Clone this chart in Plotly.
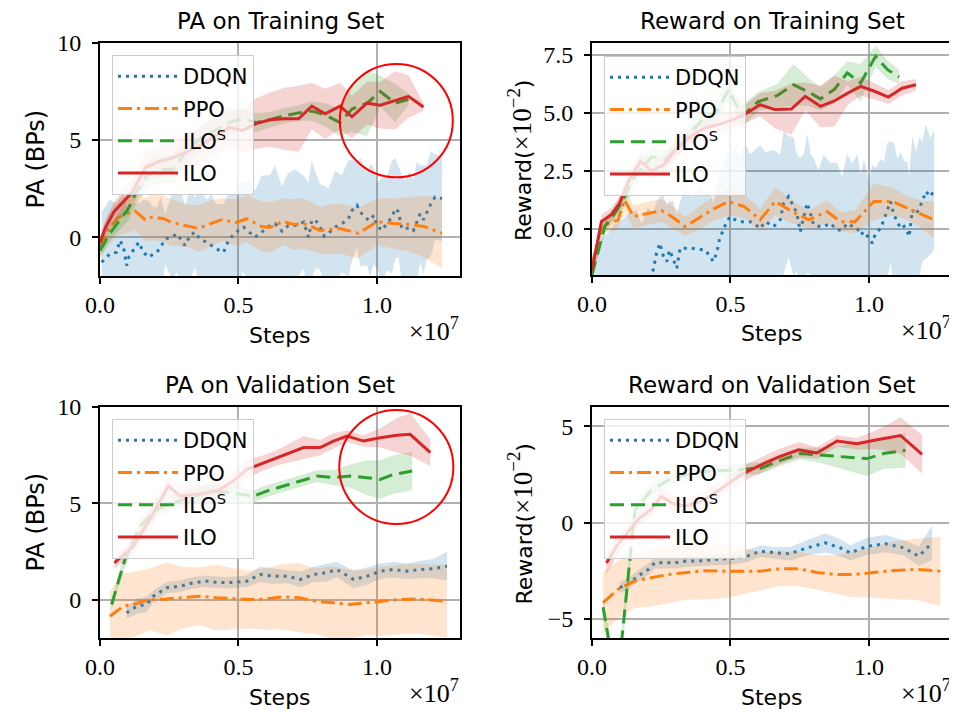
import plotly.graph_objects as go

W, H = 957, 712
OFF = 8  # the page body margin shifts the figure by this many pixels

# ---------------- data (x in units of 1e7 steps) ----------------
# --- PA on Training Set ---
tl_ddqn_x = [0.006, 0.036, 0.060, 0.072, 0.085, 0.096, 0.105, 0.126, 0.140, 0.157,
             0.175, 0.190, 0.205, 0.220, 0.235, 0.260, 0.277, 0.295, 0.307, 0.325,
             0.343, 0.360, 0.385, 0.403, 0.420, 0.446, 0.464, 0.480, 0.500, 0.518,
             0.540, 0.560, 0.584, 0.614, 0.632, 0.657, 0.680, 0.705, 0.735, 0.753,
             0.765, 0.777, 0.795, 0.810, 0.825, 0.849, 0.873, 0.897, 0.910, 0.928,
             0.940, 0.964, 0.976, 0.988, 1.000, 1.018, 1.036, 1.054, 1.066, 1.078,
             1.090, 1.102, 1.118, 1.132, 1.144, 1.156, 1.168, 1.180, 1.195, 1.210,
             1.235]
tl_ddqn_y = [-1.29, -0.86, -0.78, -0.17, -0.50, -1.46, -1.00, -0.52, -0.26, -0.78,
             -1.03, -0.90, -0.78, -0.50, -0.09, 0.00, 0.17, -0.17, -0.43, 0.09,
             0.26, -0.09, -0.26, -0.43, -0.60, -0.78, -0.17, 0.10, 0.35, 0.52,
             0.26, 0.00, 0.26, 0.60, 0.69, 0.31, 0.60, 0.60, 0.78, 0.00,
             0.86, 0.90, 0.52, 0.05, 0.20, 0.52, 0.69, 0.95, 1.38, 1.64,
             1.29, 0.95, 0.86, 1.12, 0.60, 0.35, 0.70, 1.03, 1.47, 1.30,
             0.43, 0.43, 0.50, 0.35, 0.78, 1.20, 0.90, 1.29, 1.72, 2.07,
             1.99]
tl_ddqn_s = [2.6, 2.8, 2.5, 2.2, 2.7, 3.0, 2.6, 2.3, 2.0, 2.7,
             2.9, 2.5, 2.3, 2.6, 1.3, 2.2, 2.0, 2.4, 2.1, 2.3,
             1.8, 2.5, 2.2, 2.6, 2.3, 2.5, 2.4, 2.1, 2.6, 2.3,
             2.7, 2.4, 2.9, 2.6, 3.0, 2.3, 2.7, 2.9, 2.4, 2.8,
             3.1, 2.5, 2.2, 2.6, 2.3, 2.9, 2.5, 3.0, 2.6, 2.2,
             2.8, 2.4, 2.9, 2.5, 2.2, 2.7, 2.4, 2.9, 2.6, 2.3,
             2.8, 2.5, 2.9, 2.6, 3.1, 2.5, 2.8, 2.4, 2.7, 2.2,
             2.2]
tl_ppo_x = [0.0, 0.03, 0.066, 0.096, 0.126, 0.163, 0.19, 0.23, 0.26, 0.31,
            0.355, 0.40, 0.44, 0.49, 0.53, 0.584, 0.614, 0.66, 0.70, 0.735,
            0.795, 0.83, 0.867, 0.933, 1.0, 1.06, 1.12, 1.17, 1.235]
tl_ppo_y = [-0.6, 0.4, 1.0, 1.2, 1.35, 0.9, 1.05, 0.95, 0.75, 0.6,
            0.45, 0.7, 0.9, 0.75, 0.95, 0.55, 0.5, 0.8, 0.65, 0.7,
            0.35, 0.4, 0.45, 0.2, 0.8, 0.7, 0.65, 0.55, 0.2]
tl_ppo_s = [0.6, 0.8, 0.9, 1.0, 1.0, 1.1, 1.2, 1.2, 1.2, 1.1,
            1.2, 1.2, 1.1, 1.2, 1.2, 1.3, 1.3, 1.2, 1.3, 1.3,
            1.2, 1.3, 1.3, 1.3, 1.2, 1.3, 1.4, 1.6, 1.8]
tl_ilos_x = [0.0, 0.036, 0.072, 0.10, 0.13, 0.165, 0.215, 0.265, 0.315, 0.365,
             0.415, 0.465, 0.515, 0.564, 0.614, 0.665, 0.717, 0.765, 0.813, 0.867,
             0.91, 0.964, 1.012, 1.066, 1.114]
tl_ilos_y = [-0.7, 0.2, 0.9, 1.4, 2.3, 3.1, 3.5, 3.5, 4.5, 5.1,
             5.5, 5.9, 6.1, 5.9, 6.05, 6.25, 6.4, 6.5, 6.3, 5.9,
             6.6, 6.9, 7.5, 6.9, 7.1]
tl_ilos_s = [0.3, 0.4, 0.5, 0.6, 0.6, 0.7, 0.7, 0.7, 0.7, 0.7,
             0.6, 0.6, 0.5, 0.5, 0.4, 0.4, 0.4, 0.5, 0.6, 0.7,
             1.2, 1.7, 0.8, 1.0, 0.3]
tl_ilo_x = [0.0, 0.02, 0.05, 0.09, 0.115, 0.165, 0.215, 0.265, 0.315, 0.365,
            0.415, 0.465, 0.515, 0.564, 0.614, 0.665, 0.717, 0.765, 0.813, 0.867,
            0.91, 0.964, 1.012, 1.066, 1.114, 1.168]
tl_ilo_y = [-0.3, 0.5, 1.3, 1.9, 2.3, 3.6, 3.9, 4.1, 4.4, 4.75,
            5.2, 5.65, 5.5, 5.85, 6.05, 6.1, 6.1, 6.75, 6.35, 6.75,
            6.2, 6.9, 6.8, 7.05, 7.25, 6.7]
tl_ilo_s = [0.3, 0.4, 0.5, 0.6, 0.7, 0.8, 0.8, 0.8, 0.9, 0.9,
            1.0, 1.0, 1.1, 1.3, 1.4, 1.6, 1.7, 1.2, 1.3, 1.2,
            1.1, 1.1, 1.2, 1.5, 1.1, 0.2]

# --- Reward on Training Set (x 1e-2) ---
tr_ddqn_x = [0.00, 0.02, 0.04, 0.06, 0.08, 0.10, 0.12, 0.14, 0.16, 0.18,
             0.20, 0.221, 0.233, 0.245, 0.258, 0.270, 0.280, 0.293, 0.306, 0.318,
             0.336, 0.360, 0.390, 0.410, 0.426, 0.438, 0.450, 0.460, 0.469, 0.487,
             0.499, 0.517, 0.535, 0.553, 0.571, 0.589, 0.607, 0.626, 0.656, 0.680,
             0.692, 0.710, 0.728, 0.740, 0.752, 0.765, 0.777, 0.790, 0.800, 0.818,
             0.837, 0.861, 0.885, 0.903, 0.922, 0.940, 0.958, 0.970, 0.982, 1.000,
             1.012, 1.024, 1.042, 1.054, 1.067, 1.078, 1.090, 1.103, 1.115, 1.127,
             1.139, 1.145, 1.157, 1.170, 1.181, 1.193, 1.205, 1.223, 1.235]
tr_ddqn_y = [-4.0, -3.5, -3.2, -3.0, -2.8, -3.1, -2.7, -2.9, -2.6, -2.8,
             -2.4, -1.78, -1.06, -0.63, -1.2, -1.42, -0.93, -1.3, -1.71, -0.85,
             -0.85, -0.85, -0.9, -0.93, -1.2, -1.42, -1.06, -0.49, -0.2, 0.3,
             0.52, 0.38, 0.3, 0.3, 0.3, 0.2, 0.0, 0.3, 0.09, 0.38,
             1.1, 1.38, 0.95, 0.66, -0.13, 0.5, 1.1, 0.6, 0.16, 0.1,
             0.09, 0.23, -0.06, -0.06, 0.23, 0.1, 0.0, -0.27, -0.13, -0.42,
             -0.63, -0.2, 0.0, 0.38, 0.8, 1.17, 0.6, 0.3, 0.0, 0.1,
             -0.13, -0.35, 0.8, 0.6, 0.9, 1.17, 1.6, 1.38, 1.67]
tr_ddqn_s = [2.8, 2.6, 2.9, 2.8, 3.0, 3.4, 3.2, 3.6, 3.4, 3.0,
             3.3, 2.5, 2.2, 2.0, 2.6, 2.4, 2.1, 2.5, 2.3, 2.0,
             2.6, 2.2, 2.7, 2.4, 2.9, 2.5, 2.8, 3.0, 2.7, 3.0,
             2.6, 3.1, 2.8, 3.4, 2.9, 3.2, 3.6, 3.0, 3.3, 2.8,
             3.1, 2.6, 3.0, 2.5, 3.2, 2.7, 3.0, 2.6, 2.9, 2.4,
             3.1, 2.6, 2.9, 2.3, 3.0, 2.7, 3.2, 2.6, 3.1, 2.4,
             3.4, 2.8, 3.0, 2.5, 2.9, 2.6, 3.1, 2.7, 3.3, 2.8,
             3.0, 2.6, 3.2, 2.7, 3.0, 2.6, 2.9, 2.5, 2.6]
tr_ppo_x = [0.0, 0.034, 0.064, 0.094, 0.118, 0.149, 0.20, 0.251, 0.29, 0.336,
            0.385, 0.433, 0.493, 0.55, 0.607, 0.662, 0.722, 0.783, 0.849, 0.897,
            0.95, 1.018, 1.085, 1.14, 1.19, 1.235]
tr_ppo_y = [-1.6, 0.09, 0.26, 0.36, 1.24, 0.52, 0.65, 0.78, 0.5, 0.09,
            0.45, 0.81, 1.17, 0.95, 0.38, 1.17, 0.73, 0.38, 0.73, 0.3,
            0.3, 1.17, 1.17, 0.88, 0.6, 0.38]
tr_ppo_s = [0.3, 0.3, 0.4, 0.4, 0.5, 0.5, 0.5, 0.5, 0.5, 0.4,
            0.5, 0.5, 0.6, 0.5, 0.5, 0.6, 0.5, 0.4, 0.5, 0.4,
            0.5, 0.8, 0.6, 0.5, 0.6, 0.8]
tr_ilos_x = [0.0, 0.046, 0.082, 0.106, 0.155, 0.215, 0.263, 0.336, 0.408, 0.45,
             0.493, 0.541, 0.601, 0.668, 0.728, 0.78, 0.825, 0.875, 0.922, 0.97,
             1.024, 1.067, 1.109]
tr_ilos_y = [-2.0, 0.09, 0.66, 1.1, 2.25, 3.1, 2.97, 3.83, 4.84, 5.0,
             6.0, 4.84, 5.48, 5.73, 6.2, 5.9, 5.59, 6.0, 6.71, 6.28,
             7.43, 6.85, 6.54]
tr_ilos_s = [0.2, 0.3, 0.3, 0.4, 0.4, 0.4, 0.4, 0.4, 0.5, 0.5,
             0.5, 0.5, 0.4, 0.5, 0.9, 0.6, 0.5, 0.6, 0.5, 0.8,
             0.45, 0.4, 0.3]
tr_ilo_x = [0.0, 0.034, 0.07, 0.10, 0.13, 0.175, 0.215, 0.26, 0.31, 0.36,
            0.41, 0.46, 0.51, 0.555, 0.607, 0.66, 0.72, 0.77, 0.825, 0.875,
            0.925, 0.97, 1.02, 1.07, 1.12, 1.17]
tr_ilo_y = [-1.8, 0.3, 0.6, 1.1, 2.0, 2.9, 2.5, 2.75, 3.5, 4.0,
            4.35, 4.5, 4.7, 4.95, 5.34, 5.13, 5.15, 5.7, 5.27, 5.5,
            5.85, 6.13, 5.92, 5.67, 6.05, 6.2]
tr_ilo_s = [0.3, 0.3, 0.3, 0.3, 0.4, 0.4, 0.4, 0.4, 0.4, 0.4,
            0.4, 0.4, 0.4, 0.4, 0.5, 0.8, 1.1, 0.6, 0.9, 1.1,
            0.5, 0.4, 0.35, 0.3, 0.3, 0.25]

# --- PA on Validation Set ---
bl_ddqn_x = [0.096, 0.133, 0.169, 0.193, 0.241, 0.289, 0.337, 0.386, 0.42, 0.458,
             0.494, 0.53, 0.578, 0.627, 0.675, 0.723, 0.771, 0.819, 0.855, 0.916,
             0.964, 1.012, 1.06, 1.108, 1.157, 1.205, 1.253]
bl_ddqn_y = [-0.69, -0.35, -0.26, 0.17, 0.61, 0.69, 0.87, 0.95, 0.9, 0.87,
             0.9, 0.95, 1.3, 1.21, 1.21, 1.04, 1.3, 1.39, 1.56, 1.04,
             1.21, 1.47, 1.56, 1.47, 1.56, 1.6, 1.73]
bl_ddqn_s = [0.3, 0.4, 0.4, 0.3, 0.3, 0.3, 0.3, 0.3, 0.3, 0.3,
             0.3, 0.3, 0.4, 0.4, 0.35, 0.4, 0.4, 0.45, 0.4, 0.45,
             0.45, 0.4, 0.4, 0.4, 0.45, 0.5, 0.75]
bl_ppo_x = [0.036, 0.084, 0.12, 0.18, 0.24, 0.3, 0.36, 0.42, 0.48, 0.54,
            0.6, 0.66, 0.72, 0.78, 0.84, 0.9, 0.96, 1.02, 1.08, 1.14, 1.253]
bl_ppo_y = [-0.87, -0.35, -0.26, 0.0, 0.03, 0.09, 0.17, 0.09, 0.03, 0.0,
            0.03, 0.14, 0.09, -0.09, -0.17, -0.26, -0.17, -0.09, 0.0, 0.03, -0.09]
bl_ppo_s = [1.3, 1.7, 1.7, 1.6, 1.9, 1.6, 1.5, 1.7, 1.6, 1.5,
            1.6, 1.7, 1.8, 1.7, 1.9, 1.8, 1.7, 1.8, 1.8, 1.8, 1.9]
bl_ilos_x = [0.042, 0.09, 0.145, 0.205, 0.265, 0.325, 0.385, 0.445, 0.5, 0.554,
             0.602, 0.663, 0.723, 0.783, 0.843, 0.904, 0.964, 1.012, 1.06, 1.127]
bl_ilos_y = [-0.26, 2.08, 3.81, 4.68, 5.03, 5.3, 5.55, 5.6, 5.5, 5.37,
             5.63, 5.89, 6.15, 6.41, 6.33, 6.41, 6.33, 6.24, 6.5, 6.67]
bl_ilos_s = [0.3, 0.4, 0.4, 0.4, 0.4, 0.4, 0.4, 0.4, 0.4, 0.3,
             0.3, 0.3, 0.3, 0.3, 0.4, 0.6, 0.9, 1.0, 1.0, 1.0]
bl_ilo_x = [0.052, 0.12, 0.18, 0.247, 0.29, 0.337, 0.386, 0.434, 0.482, 0.53,
            0.59, 0.64, 0.687, 0.735, 0.795, 0.843, 0.892, 0.952, 1.012, 1.072,
            1.12, 1.193]
bl_ilo_y = [1.9, 2.77, 4.16, 5.9, 5.37, 5.46, 5.55, 5.72, 6.15, 6.76,
            7.1, 7.37, 7.63, 7.89, 7.89, 8.23, 8.49, 8.23, 8.4, 8.53,
            8.58, 7.63]
bl_ilo_s = [0.3, 0.4, 0.5, 0.5, 0.5, 0.5, 0.5, 0.5, 0.5, 0.5,
            0.4, 0.4, 0.5, 0.6, 0.4, 0.4, 0.3, 0.3, 0.5, 0.9,
            1.1, 0.7]

# --- Reward on Validation Set (x 1e-2) ---
br_ddqn_x = [0.10, 0.13, 0.166, 0.203, 0.227, 0.263, 0.299, 0.34, 0.384, 0.42,
             0.456, 0.49, 0.528, 0.56, 0.607, 0.667, 0.715, 0.776, 0.842, 0.897,
             0.933, 0.993, 1.059, 1.126, 1.18, 1.228]
br_ddqn_y = [-3.38, -3.21, -2.78, -2.44, -2.09, -2.09, -2.09, -2.0, -2.0, -1.95,
             -1.92, -1.9, -1.84, -1.75, -1.49, -1.58, -1.62, -1.32, -1.06, -1.32,
             -1.58, -1.24, -1.1, -1.32, -1.75, -1.06]
br_ddqn_s = [0.3, 0.3, 0.3, 0.3, 0.3, 0.3, 0.3, 0.3, 0.3, 0.3,
             0.3, 0.3, 0.3, 0.3, 0.3, 0.3, 0.35, 0.4, 0.5, 0.45,
             0.4, 0.45, 0.45, 0.4, 0.5, 0.9]
br_ppo_x = [0.04, 0.094, 0.155, 0.215, 0.275, 0.335, 0.408, 0.48, 0.553, 0.607,
            0.68, 0.745, 0.812, 0.88, 0.945, 1.005, 1.09, 1.174, 1.258]
br_ppo_y = [-4.16, -3.47, -3.04, -2.87, -2.7, -2.61, -2.5, -2.53, -2.53, -2.53,
            -2.4, -2.4, -2.6, -2.7, -2.7, -2.6, -2.49, -2.44, -2.53]
br_ppo_s = [1.6, 1.5, 1.4, 1.5, 1.5, 1.4, 1.5, 1.4, 1.2, 1.0,
            0.9, 0.9, 0.9, 1.0, 1.2, 1.3, 1.5, 1.6, 1.8]
br_ilos_x = [0.04, 0.09, 0.155, 0.215, 0.275, 0.335, 0.395, 0.455, 0.515, 0.577,
             0.607, 0.68, 0.752, 0.825, 0.897, 0.993, 1.053, 1.132]
br_ilos_y = [-4.4, -8.6, 0.65, 1.69, 2.2, 2.46, 2.63, 2.7, 2.7, 2.8,
             2.8, 3.23, 3.58, 3.49, 3.4, 3.32, 3.58, 3.75]
br_ilos_s = [0.5, 0.8, 0.4, 0.3, 0.3, 0.3, 0.3, 0.3, 0.3, 0.3,
             0.3, 0.3, 0.3, 0.4, 0.6, 0.9, 0.8, 0.9]
br_ilo_x = [0.052, 0.09, 0.13, 0.17, 0.215, 0.25, 0.29, 0.335, 0.383, 0.431,
            0.48, 0.54, 0.607, 0.673, 0.746, 0.812, 0.885, 0.957, 1.029, 1.07,
            1.114, 1.192]
br_ilo_y = [-2.1, -1.2, -0.5, 0.2, 0.7, 1.35, 1.0, 0.85, 1.05, 1.4,
            1.9, 2.5, 2.97, 3.4, 3.78, 3.61, 4.23, 4.09, 4.3, 4.4,
            4.52, 3.54]
br_ilo_s = [0.6, 0.5, 0.4, 0.4, 0.4, 0.4, 0.4, 0.4, 0.4, 0.4,
            0.4, 0.4, 0.4, 0.4, 0.4, 0.3, 0.3, 0.3, 0.5, 0.7,
            0.95, 1.0]

series_names = ["DDQN", "PPO", "ILO<sup>S</sup>", "ILO"]
panel_titles = ["PA on Training Set", "Reward on Training Set",
                "PA on Validation Set", "Reward on Validation Set"]
x_ticks = [0.0, 0.5, 1.0]
y_ticks = [[0, 5, 10], [0.0, 2.5, 5.0, 7.5], [0, 5, 10], [-5, 0, 5]]
y_ranges = [[-2, 10], [-2, 8], [-2, 10], [-6, 6]]
x_range = [0, 1.3]
# highlighted regions (red circles) in data units: (panel, cx, cy, rx, ry)
highlights = [(0, 1.07, 6.0, 0.204, 2.92), (2, 1.07, 6.88, 0.206, 2.96)]

# ---------------- styling ----------------
colors = ["#1f77b4", "#ff7f0e", "#2ca02c", "#d62728"]
rgba = ["rgba(31,119,180,0.2)", "rgba(255,127,14,0.2)",
        "rgba(44,160,44,0.2)", "rgba(214,39,40,0.2)"]
dashes = ["3px,5px", "14px,5px,3px,5px", "14px,7px", "solid"]
SANS = "DejaVu Sans"
SERIF = "Liberation Serif"

panels = [
    [(tl_ddqn_x, tl_ddqn_y, tl_ddqn_s), (tl_ppo_x, tl_ppo_y, tl_ppo_s),
     (tl_ilos_x, tl_ilos_y, tl_ilos_s), (tl_ilo_x, tl_ilo_y, tl_ilo_s)],
    [(tr_ddqn_x, tr_ddqn_y, tr_ddqn_s), (tr_ppo_x, tr_ppo_y, tr_ppo_s),
     (tr_ilos_x, tr_ilos_y, tr_ilos_s), (tr_ilo_x, tr_ilo_y, tr_ilo_s)],
    [(bl_ddqn_x, bl_ddqn_y, bl_ddqn_s), (bl_ppo_x, bl_ppo_y, bl_ppo_s),
     (bl_ilos_x, bl_ilos_y, bl_ilos_s), (bl_ilo_x, bl_ilo_y, bl_ilo_s)],
    [(br_ddqn_x, br_ddqn_y, br_ddqn_s), (br_ppo_x, br_ppo_y, br_ppo_s),
     (br_ilos_x, br_ilos_y, br_ilos_s), (br_ilo_x, br_ilo_y, br_ilo_s)],
]

# screen-pixel layout of the four plot areas: (left, right, top, bottom)
boxes = [(100, 460, 43, 276), (592, 952, 43, 275),
         (100, 460, 407, 638), (592, 952, 407, 638)]
legend_pos = [(112, 55), (604, 56), (112, 419), (604, 419)]


def px(xp):
    return (xp - OFF) / W


def py(yp):
    return 1 - (yp - OFF) / H


fig = go.Figure()
legend_ids = ["legend", "legend2", "legend3", "legend4"]

for p, series in enumerate(panels):
    xa = "x" if p == 0 else f"x{p + 1}"
    ya = "y" if p == 0 else f"y{p + 1}"
    for k, (xs, ms, ss) in enumerate(series):
        up = [m + s for m, s in zip(ms, ss)]
        lo = [m - s for m, s in zip(ms, ss)]
        fig.add_trace(go.Scatter(
            x=list(xs) + list(xs[::-1]), y=up + lo[::-1],
            fill="toself", fillcolor=rgba[k], line=dict(width=0),
            mode="lines", hoverinfo="skip", showlegend=False,
            legend=legend_ids[p], xaxis=xa, yaxis=ya))
        fig.add_trace(go.Scatter(
            x=xs, y=ms, mode="lines", name=series_names[k],
            line=dict(color=colors[k], width=3, dash=dashes[k]),
            legendgroup=f"p{p}s{k}", legend=legend_ids[p],
            xaxis=xa, yaxis=ya))

layout = dict(
    template="none",
    width=W, height=H, autosize=False,
    margin=dict(l=0, r=0, t=0, b=0, pad=0, autoexpand=False),
    paper_bgcolor="white", plot_bgcolor="white",
    font=dict(family=SANS, size=21, color="black"),
    showlegend=True,
)

axis_common = dict(
    automargin=False,
    showline=True, mirror=True, linecolor="black", linewidth=2,
    showgrid=True, gridcolor="#b0b0b0", gridwidth=1.5,
    zeroline=False, ticks="outside", ticklen=6, tickwidth=1.5,
    tickcolor="black", tickfont=dict(family=SERIF, size=24, color="black"),
)

annotations = []
shapes = []
for p in range(4):
    l, r, t, b = boxes[p]
    xname = "xaxis" if p == 0 else f"xaxis{p + 1}"
    yname = "yaxis" if p == 0 else f"yaxis{p + 1}"
    xa = "x" if p == 0 else f"x{p + 1}"
    ya = "y" if p == 0 else f"y{p + 1}"
    layout[xname] = dict(axis_common, domain=[px(l), px(r)], range=x_range,
                         tickvals=x_ticks, tickformat=".1f", anchor=ya)
    yfmt = ".1f" if p == 1 else "d"
    layout[yname] = dict(axis_common, domain=[py(b), py(t)], range=y_ranges[p],
                         tickvals=y_ticks[p], tickformat=yfmt, anchor=xa,
                         ticklabelstandoff=6)
    lx, ly = legend_pos[p]
    layout[legend_ids[p]] = dict(
        x=px(lx), y=py(ly), xanchor="left", yanchor="top",
        bgcolor="rgba(255,255,255,0.8)", bordercolor="#cccccc", borderwidth=1,
        font=dict(family=SANS, size=21, color="black"),
        tracegroupgap=2, itemwidth=60)
    cx = (l + r) / 2
    annotations.append(dict(text=panel_titles[p], x=px(cx), y=py(t - 22),
                            xref="paper", yref="paper", showarrow=False,
                            xanchor="center", yanchor="middle",
                            font=dict(family=SANS, size=23)))
    annotations.append(dict(text="Steps", x=px(cx), y=py(b + 59),
                            xref="paper", yref="paper", showarrow=False,
                            xanchor="center", yanchor="middle",
                            font=dict(family=SANS, size=22)))
    annotations.append(dict(text="×10<sup>7</sup>", x=px(r + 1), y=py(b + 53),
                            xref="paper", yref="paper", showarrow=False,
                            xanchor="right", yanchor="middle",
                            font=dict(family=SERIF, size=26)))
    if p % 2 == 0:
        ylab = "PA (BPs)"
        lxp = l - 65
        lyp = (t + b) / 2
        lsize = 24
    else:
        ylab = ("Reward(<span style=\"font-family:'Liberation Serif';"
                "font-size:27px\">×10<sup>−2</sup></span>)")
        lxp = l - 72
        lyp = (t + b) / 2 + 2
        lsize = 22
    annotations.append(dict(text=ylab, x=px(lxp), y=py(lyp),
                            xref="paper", yref="paper", showarrow=False,
                            xanchor="center", yanchor="middle", textangle=-90,
                            font=dict(family=SANS, size=lsize)))

for (p, cxv, cyv, rx, ry) in highlights:
    xa = "x" if p == 0 else f"x{p + 1}"
    ya = "y" if p == 0 else f"y{p + 1}"
    shapes.append(dict(type="circle", xref=xa, yref=ya,
                       x0=cxv - rx, x1=cxv + rx, y0=cyv - ry, y1=cyv + ry,
                       line=dict(color="red", width=2)))

layout["annotations"] = annotations
layout["shapes"] = shapes
fig.update_layout(**layout)

fig.write_html("out.html")
